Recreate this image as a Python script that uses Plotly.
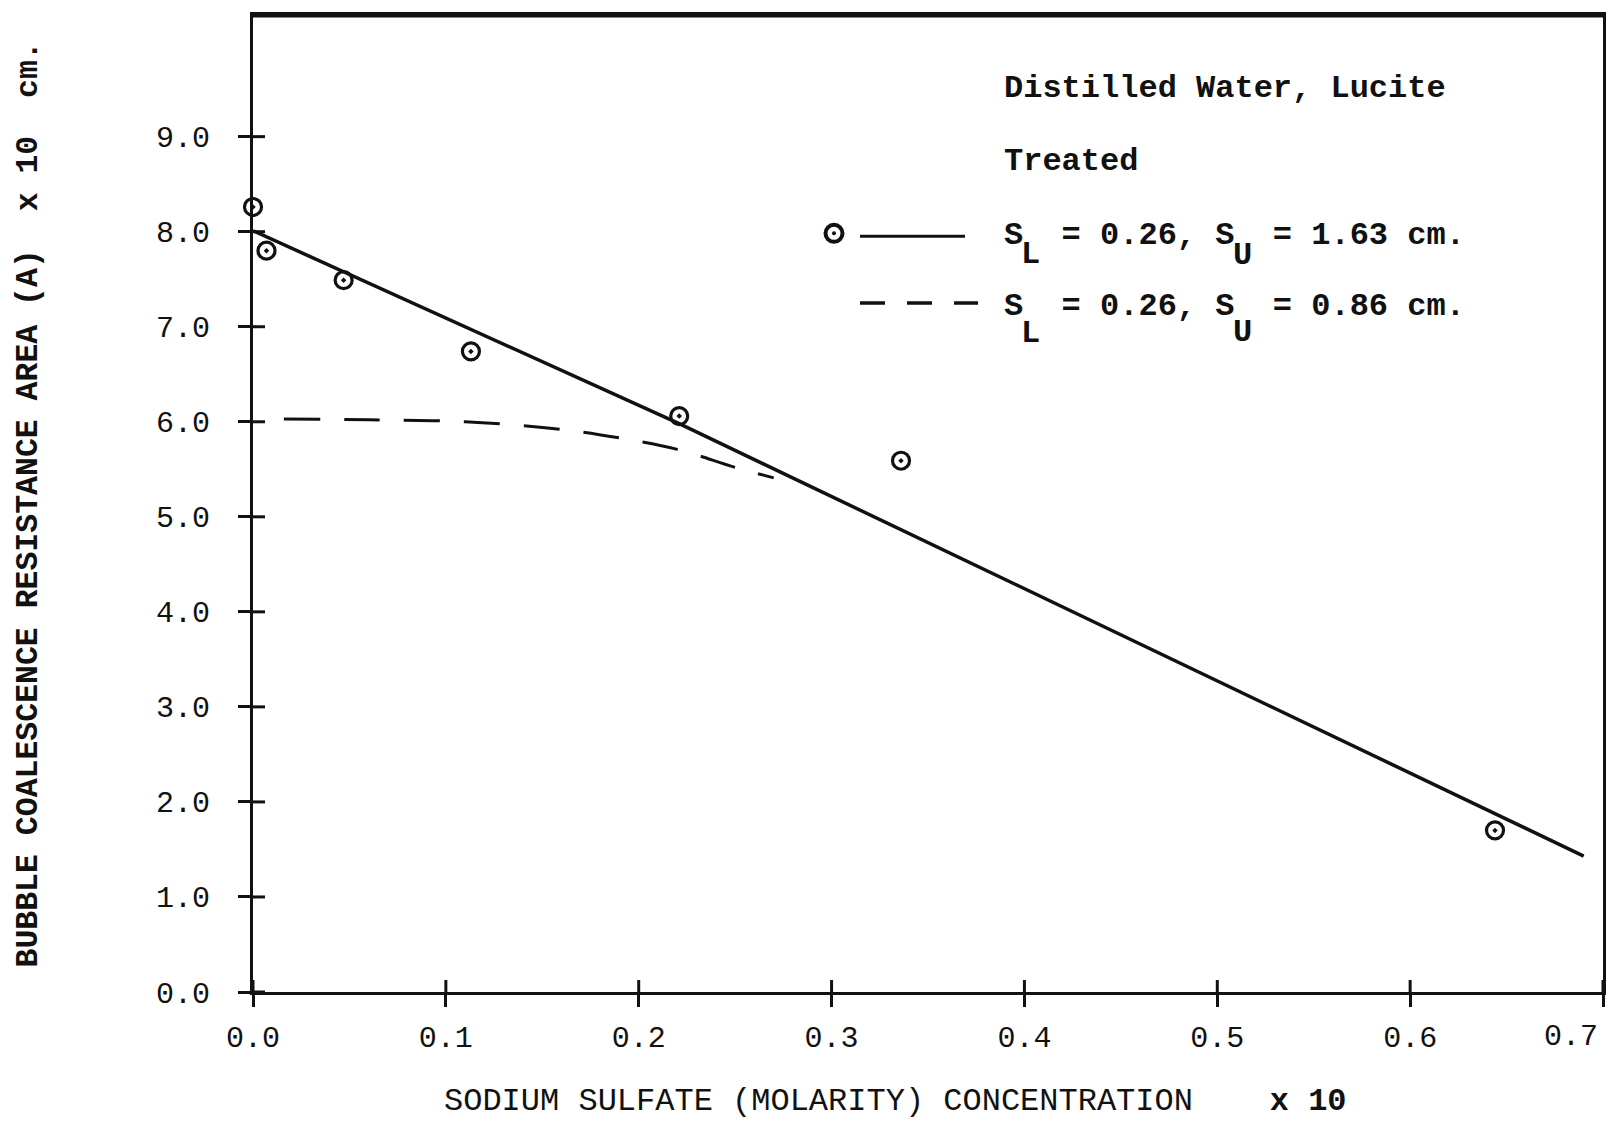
import plotly.graph_objects as go

# ---- data ----
conc = [0.0, 0.007, 0.047, 0.113, 0.221, 0.336, 0.644]
area = [8.26, 7.80, 7.49, 6.74, 6.06, 5.59, 1.70]

fit_x = [0.0, 0.221, 0.69]
fit_y = [8.01, 5.98, 1.43]

dash_x = [0.016, 0.06, 0.11, 0.16, 0.19, 0.22, 0.25, 0.27]
dash_y = [6.03, 6.02, 6.00, 5.92, 5.83, 5.71, 5.52, 5.41]

x_ticks = [0.0, 0.1, 0.2, 0.3, 0.4, 0.5, 0.6, 0.7]
x_ticktext = ["0.0", "0.1", "0.2", "0.3", "0.4", "0.5", "0.6", "0.7"]
y_ticks = [0, 1, 2, 3, 4, 5, 6, 7, 8, 9]
y_ticktext = ["0.0", "1.0", "2.0", "3.0", "4.0", "5.0", "6.0", "7.0", "8.0", "9.0"]

X_RANGE = [0, 0.7]
Y_RANGE = [0, 10.28]

# page is 1618x1122, the body has an 8px margin -> figure is offset by 8px
OFF = 8
PAGE_W, PAGE_H = 1618, 1122
PL, PR, PT, PB = 253, 1603, 12, 992          # plot area in page pixels
W, H = PAGE_W - OFF, PAGE_H - OFF
L, T = PL - OFF, PT - OFF
R, B = W - (PR - OFF), H - (PB - OFF)
PW, PH = PR - PL, PB - PT
FONT = "Liberation Mono"
INK = "#111111"


def px(xp):
    return (xp - PL) / PW


def py(yp):
    return (PB - yp) / PH


fig = go.Figure()

fig.add_trace(go.Scatter(x=fit_x, y=fit_y, mode="lines",
                         line=dict(color=INK, width=3.5), showlegend=False, hoverinfo="skip"))
fig.add_trace(go.Scatter(x=dash_x, y=dash_y, mode="lines",
                         line=dict(color=INK, width=3, dash="36px,24px", shape="spline"),
                         showlegend=False, hoverinfo="skip"))
fig.add_trace(go.Scatter(x=conc, y=area, mode="markers", cliponaxis=False,
                         marker=dict(symbol="circle-open-dot", size=17, color=INK,
                                     line=dict(color=INK, width=3.2)),
                         showlegend=False))

axis_common = dict(showgrid=False, zeroline=False, tickcolor=INK, tickwidth=3, ticklen=12,
                   showline=True, linecolor=INK, linewidth=3, mirror=True, ticks="outside")

# last x label sits against the right edge of the page: drawn as an annotation
x_axis_text = x_ticktext[:-1] + [""]

fig.update_layout(
    width=W, height=H,
    margin=dict(l=L, r=R, t=T, b=B, pad=0),
    paper_bgcolor="white", plot_bgcolor="white",
    font=dict(family=FONT, color=INK, size=30),
    xaxis=dict(range=X_RANGE, tickvals=x_ticks, ticktext=x_axis_text,
               tickfont=dict(family=FONT, size=30, color=INK), ticklabelstandoff=4,
               **axis_common),
    yaxis=dict(range=Y_RANGE, tickvals=y_ticks, ticktext=y_ticktext,
               tickfont=dict(family=FONT, size=30, color=INK), ticklabelstandoff=22,
               **axis_common),
)

shapes = []
# thicker top border
shapes.append(dict(type="line", xref="paper", yref="paper", x0=0, x1=1, y0=1, y1=1,
                   line=dict(color=INK, width=5)))
# inner halves of the crossing tick marks
for xv in x_ticks:
    shapes.append(dict(type="line", xref="x", yref="paper", x0=xv, x1=xv,
                       y0=0, y1=12 / PH, line=dict(color=INK, width=3)))
for yv in y_ticks:
    shapes.append(dict(type="line", xref="paper", yref="y", x0=0, x1=12 / PW,
                       y0=yv, y1=yv, line=dict(color=INK, width=3)))
# legend: marker + solid line
r = 8.5
shapes.append(dict(type="circle", xref="paper", yref="paper",
                   x0=px(834 - r), x1=px(834 + r), y0=py(231 + r), y1=py(231 - r),
                   line=dict(color=INK, width=4)))
shapes.append(dict(type="circle", xref="paper", yref="paper",
                   x0=px(832), x1=px(836), y0=py(233), y1=py(229),
                   fillcolor=INK, line=dict(color=INK, width=0)))
shapes.append(dict(type="line", xref="paper", yref="paper",
                   x0=px(860), x1=px(965), y0=py(234), y1=py(234),
                   line=dict(color=INK, width=3)))
# legend: dashed line
shapes.append(dict(type="line", xref="paper", yref="paper",
                   x0=px(860), x1=px(978), y0=py(301), y1=py(301),
                   line=dict(color=INK, width=3.5, dash="25px,22px")))
fig.update_layout(shapes=shapes)

NB = "\u00a0"
ann = []


def text(s, xp, yp, size=32, bold=True, xanchor="left", angle=0):
    ann.append(dict(text=("<b>%s</b>" % s) if bold else s, xref="paper", yref="paper",
                    x=px(xp), y=py(yp), xanchor=xanchor, yanchor="middle",
                    showarrow=False, textangle=angle,
                    font=dict(family=FONT, size=size, color=INK)))


text("Distilled Water, Lucite", 1002, 86)
text("Treated", 1002, 159)

text("S" + NB + " = 0.26, S" + NB + " = 1.63 cm.", 1002, 233)
text("L", 1030, 252, xanchor="center")
text("U", 1242, 253, xanchor="center")

text("S" + NB + " = 0.26, S" + NB + " = 0.86 cm.", 1002, 304)
text("L", 1030, 331, xanchor="center")
text("U", 1242, 330, xanchor="center")

# last x tick label, kept inside the page
ann.append(dict(text=x_ticktext[-1], xref="x", yref="paper", x=x_ticks[-1], y=py(1037),
                xanchor="right", yanchor="middle", xshift=-3, showarrow=False,
                font=dict(family=FONT, size=30, color=INK)))

# axis titles
xtitle = "SODIUM SULFATE (MOLARITY) CONCENTRATION" + NB * 4 + "<b>x 10</b>"
ann.append(dict(text=xtitle, xref="paper", yref="paper", x=px(442), y=py(1102),
                xanchor="left", yanchor="middle", showarrow=False,
                font=dict(family=FONT, size=32, color=INK)))

ytitle = ("BUBBLE COALESCENCE RESISTANCE AREA (A)" + NB * 2 + "x 10" + NB * 2 + "cm.")
ann.append(dict(text="<b>%s</b>" % ytitle, xref="paper", yref="paper", x=px(28), y=py(503),
                xanchor="center", yanchor="middle", showarrow=False, textangle=-90,
                font=dict(family=FONT, size=31.5, color=INK)))

fig.update_layout(annotations=ann)

fig.write_html("out.html")
